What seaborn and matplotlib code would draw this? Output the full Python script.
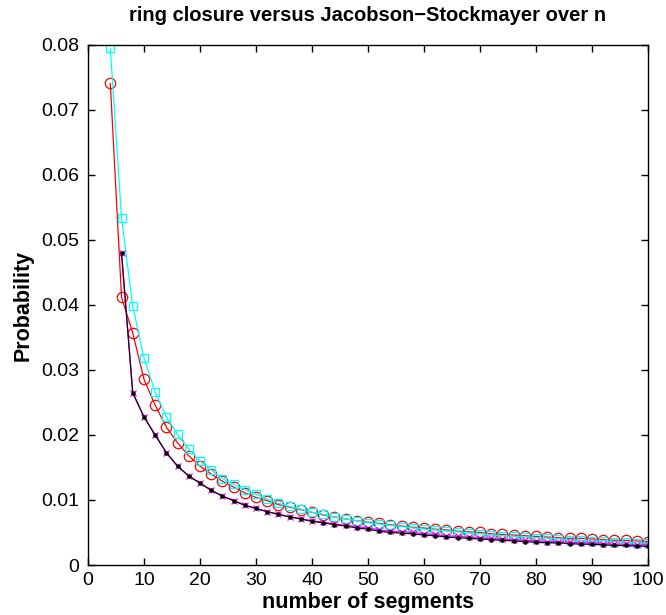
import numpy as np
import pandas as pd
import matplotlib
matplotlib.use("Agg")
import matplotlib.pyplot as plt
import seaborn as sns

# ---- data ----
n_all = list(range(4, 101, 2))
n_js = list(range(6, 101, 2))

ring_closure = [0.0741, 0.0412, 0.0357, 0.0286, 0.0246, 0.0212, 0.0188, 0.0168, 0.0152, 0.0140,
                0.0129, 0.0120, 0.0111, 0.0104, 0.0099, 0.0093, 0.0089, 0.0085, 0.0081, 0.0077,
                0.0074, 0.0071, 0.0068, 0.0066, 0.0064, 0.0062, 0.0060, 0.0058, 0.0057, 0.0055,
                0.0054, 0.0052, 0.0051, 0.0050, 0.0048, 0.0047, 0.0046, 0.0045, 0.0044, 0.0043,
                0.0042, 0.0041, 0.0041, 0.0040, 0.0039, 0.0038, 0.0038, 0.0037, 0.0036]

ring_closure_2 = [0.0795, 0.0534, 0.0398, 0.0319, 0.0266, 0.0228, 0.0201, 0.0178, 0.0160, 0.0146,
                  0.0133, 0.0124, 0.0116, 0.0109, 0.0101, 0.0095, 0.0090, 0.0086, 0.0081, 0.0078,
                  0.0074, 0.0071, 0.0068, 0.0065, 0.0063, 0.0061, 0.0059, 0.0057, 0.0055, 0.0054,
                  0.0052, 0.0051, 0.0049, 0.0048, 0.0046, 0.0045, 0.0044, 0.0043, 0.0042, 0.0041,
                  0.0040, 0.0039, 0.0038, 0.0037, 0.0037, 0.0036, 0.0035, 0.0034, 0.0034]

jacobson_stockmayer = [0.0480, 0.0265, 0.0228, 0.0200, 0.0173, 0.0152, 0.0137, 0.0126, 0.0115, 0.0106,
                       0.0099, 0.0092, 0.0087, 0.0082, 0.0078, 0.0074, 0.0071, 0.0067, 0.0065, 0.0062,
                       0.0060, 0.0057, 0.0055, 0.0052, 0.0050, 0.0049, 0.0048, 0.0046, 0.0045, 0.0043,
                       0.0042, 0.0041, 0.0040, 0.0039, 0.0038, 0.0037, 0.0036, 0.0035, 0.0034, 0.0034,
                       0.0033, 0.0032, 0.0032, 0.0031, 0.0030, 0.0030, 0.0029, 0.0029]

jacobson_stockmayer_2 = [0.0480, 0.0265, 0.0228, 0.0200, 0.0173, 0.0152, 0.0137, 0.0126, 0.0115, 0.0106,
                         0.0099, 0.0092, 0.0087, 0.0082, 0.0078, 0.0074, 0.0071, 0.0068, 0.0066, 0.0063,
                         0.0061, 0.0059, 0.0057, 0.0054, 0.0052, 0.0051, 0.0050, 0.0048, 0.0047, 0.0045,
                         0.0044, 0.0043, 0.0042, 0.0041, 0.0040, 0.0039, 0.0038, 0.0037, 0.0036, 0.0036,
                         0.0035, 0.0034, 0.0034, 0.0033, 0.0032, 0.0032, 0.0031, 0.0031]

x_ticks = list(range(0, 101, 10))
y_ticks = [0, 0.01, 0.02, 0.03, 0.04, 0.05, 0.06, 0.07, 0.08]
y_tick_labels = ["0", "0.01", "0.02", "0.03", "0.04", "0.05", "0.06", "0.07", "0.08"]

# ---- style ----
sns.set_style("ticks")
plt.rcParams["font.family"] = ["Liberation Sans", "DejaVu Sans"]
plt.rcParams["text.color"] = "black"
plt.rcParams["axes.labelcolor"] = "black"
plt.rcParams["xtick.color"] = "black"
plt.rcParams["ytick.color"] = "black"

fig = plt.figure(figsize=(6.66, 6.15), dpi=100)
ax = fig.add_axes([0.132, 0.0813, 0.841, 0.8457])

sns.lineplot(x=n_all, y=ring_closure, ax=ax, color="red", lw=0.9, marker="o",
             markersize=7.5, markerfacecolor="none", markeredgecolor="red", markeredgewidth=0.9)
sns.lineplot(x=n_all, y=ring_closure_2, ax=ax, color="cyan", lw=0.9, marker="s",
             markersize=6, markerfacecolor="none", markeredgecolor="cyan", markeredgewidth=0.9)
sns.lineplot(x=n_js, y=jacobson_stockmayer_2, ax=ax, color="magenta", lw=0.9, marker="x",
             markersize=5, markeredgecolor="magenta", markeredgewidth=0.9)
sns.lineplot(x=n_js, y=jacobson_stockmayer, ax=ax, color="#1a0020", lw=0.9, marker=".",
             markersize=5, markerfacecolor="black", markeredgecolor="black")

ax.set_xlim(0, 100)
ax.set_ylim(0, 0.08)
ax.set_xticks(x_ticks)
ax.set_yticks(y_ticks)
ax.set_yticklabels(y_tick_labels)
ax.tick_params(direction="in", top=True, right=True, length=5, width=1, labelsize=14)
ax.tick_params(axis="y", pad=6.5)
ax.tick_params(axis="x", pad=5)
for s in ax.spines.values():
    s.set_linewidth(1.0)
    s.set_color("black")

ax.set_title("ring closure versus Jacobson\u2212Stockmayer over n", fontsize=14.5,
             fontweight="bold", pad=17)
ax.set_xlabel("number of segments", fontsize=15.5, fontweight="bold", labelpad=2)
ax.set_ylabel("Probability", fontsize=15.5, fontweight="bold", labelpad=5)

fig.savefig("out.png", dpi=100, facecolor="white")
